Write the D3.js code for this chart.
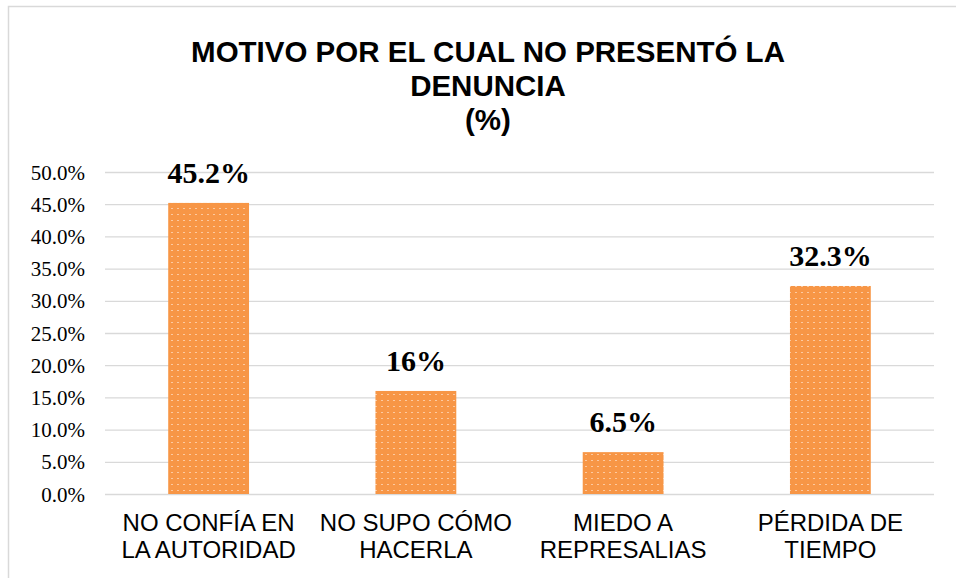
<!DOCTYPE html>
<html lang="es">
<head>
<meta charset="UTF-8">
<title>Motivo por el cual no presentó la denuncia</title>
<style>
  body { margin: 0; background: #fff; }
  .grid line { stroke: #d9d9d9; stroke-width: 1.3px; }
  .grid text { font-family: "Liberation Serif", "Times New Roman", serif; font-size: 21px; fill: #000; }
</style>
</head>
<body>
<svg id="chart" width="956" height="578"></svg>
<script src="https://d3js.org/d3.v7.min.js"></script>
<script>
// data
var categories = [["NO CONFÍA EN", "LA AUTORIDAD"], ["NO SUPO CÓMO", "HACERLA"], ["MIEDO A", "REPRESALIAS"], ["PÉRDIDA DE", "TIEMPO"]];
var values = [45.2, 16, 6.5, 32.3];
var valueLabels = ["45.2%", "16%", "6.5%", "32.3%"];
var yTicks = [0, 5, 10, 15, 20, 25, 30, 35, 40, 45, 50];
var titleLines = ["MOTIVO POR EL CUAL NO PRESENTÓ LA", "DENUNCIA", "(%)"];

var svg = d3.select("#chart");
var margin = { left: 105, right: 22, top: 172, bottom: 84 };
var W = 956, H = 578;

// frame (only left and top edges show inside the picture)
svg.append("path")
    .attr("d", "M8.5,578 V6.5 H956")
    .attr("fill", "none")
    .attr("stroke", "#d9d9d9")
    .attr("stroke-width", 1.5);

// dotted fill like the original
var defs = svg.append("defs");
var pat = defs.append("pattern")
    .attr("id", "dots")
    .attr("patternUnits", "userSpaceOnUse")
    .attr("width", 6).attr("height", 6);
pat.append("rect").attr("width", 6).attr("height", 6).attr("fill", "#f79646");
pat.append("rect").attr("x", 3).attr("y", 4).attr("width", 2).attr("height", 1).attr("fill", "#fcc9a0");

var x = d3.scaleBand()
    .domain(d3.range(categories.length))
    .range([margin.left, W - margin.right])
    .padding(0);

var y = d3.scaleLinear()
    .domain([0, 50])
    .range([H - margin.bottom, margin.top]);

// gridlines + y labels
var yAxis = d3.axisLeft(y)
    .tickValues(yTicks)
    .tickSize(-(W - margin.left - margin.right))
    .tickPadding(20)
    .tickFormat(function(d) { return d.toFixed(1) + "%"; });

var g = svg.append("g")
    .attr("class", "grid")
    .attr("transform", "translate(" + margin.left + ",0)")
    .call(yAxis);
g.select(".domain").remove();
g.selectAll("text").attr("dy", "0.34em");

// bars
var barW = x.bandwidth() * 0.39;
svg.selectAll(".bar")
    .data(values)
    .enter().append("rect")
    .attr("class", "bar")
    .attr("x", function(d, i) { return x(i) + (x.bandwidth() - barW) / 2; })
    .attr("y", function(d) { return y(d); })
    .attr("width", barW)
    .attr("height", function(d) { return y(0) - y(d); })
    .attr("fill", "url(#dots)");

// value labels
svg.selectAll(".val")
    .data(values)
    .enter().append("text")
    .attr("class", "val")
    .attr("x", function(d, i) { return x(i) + x.bandwidth() / 2; })
    .attr("y", function(d) { return y(d) - 20; })
    .attr("text-anchor", "middle")
    .style("font-family", "'Liberation Serif', 'Times New Roman', serif")
    .style("font-weight", "bold")
    .style("font-size", "30px")
    .text(function(d, i) { return valueLabels[i]; });

// category labels
var cat = svg.selectAll(".cat")
    .data(categories)
    .enter().append("text")
    .attr("class", "cat")
    .attr("text-anchor", "middle")
    .style("font-family", "'Liberation Sans', Arial, sans-serif")
    .style("font-size", "24px")
    .attr("fill", "#000");
cat.selectAll("tspan")
    .data(function(d, i) { return d.map(function(t) { return { t: t, i: i }; }); })
    .enter().append("tspan")
    .attr("x", function(d) { return x(d.i) + x.bandwidth() / 2; })
    .attr("y", function(d, j) { return 531 + j * 27; })
    .text(function(d) { return d.t; });

// title
svg.selectAll(".title")
    .data(titleLines)
    .enter().append("text")
    .attr("class", "title")
    .attr("x", 488)
    .attr("y", function(d, i) { return 62 + i * 34; })
    .attr("text-anchor", "middle")
    .style("font-family", "'Liberation Sans', Arial, sans-serif")
    .style("font-weight", "bold")
    .style("font-size", "29.5px")
    .text(function(d) { return d; });
</script>
</body>
</html>
